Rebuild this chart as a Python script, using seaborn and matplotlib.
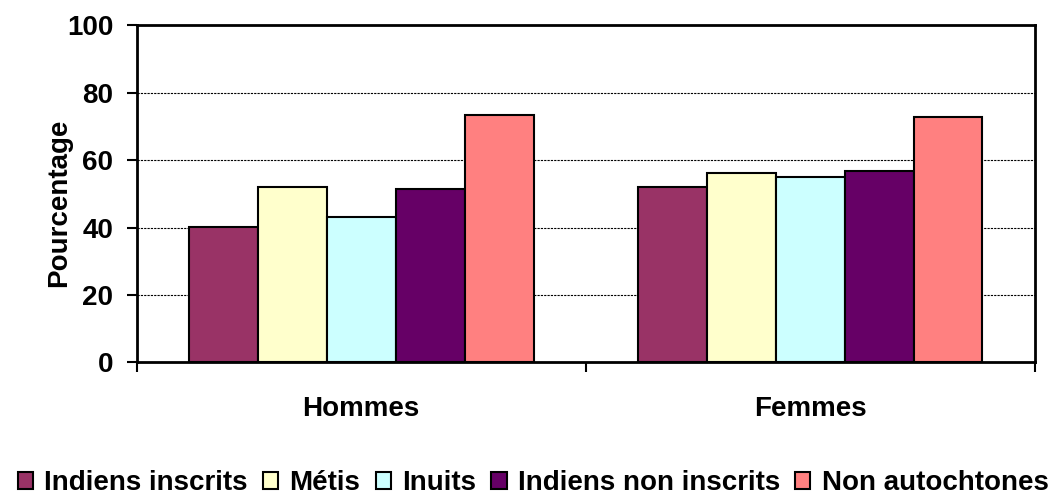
import matplotlib
matplotlib.use('Agg')
import matplotlib.pyplot as plt
import pandas as pd
import seaborn as sns

groupes = ['Hommes', 'Femmes']
populations = ['Indiens inscrits', 'Métis', 'Inuits', 'Indiens non inscrits', 'Non autochtones']
hommes = [40.2, 52.1, 43.1, 51.5, 73.5]
femmes = [52.1, 56.2, 55.0, 56.8, 72.9]
couleurs = ['#993366', '#FFFFCC', '#CCFFFF', '#660066', '#FF8080']

data = pd.DataFrame({
    'groupe': [g for g in groupes for _ in populations],
    'population': populations * 2,
    'Pourcentage': hommes + femmes,
})

sns.set_style('white')
plt.rcParams['font.family'] = ['Liberation Sans', 'DejaVu Sans']
plt.rcParams['font.weight'] = 'bold'
for k in ['text.color', 'axes.labelcolor', 'xtick.color', 'ytick.color']:
    plt.rcParams[k] = 'black'

fig = plt.figure(figsize=(10.6, 4.95), dpi=100)
ax = fig.add_axes([0.129, 0.268, 0.847, 0.681])

sns.barplot(data=data, x='groupe', y='Pourcentage', hue='population',
            order=groupes, hue_order=populations, palette=couleurs,
            saturation=1, width=0.768, gap=0, edgecolor='black', linewidth=1.5,
            ax=ax, legend=True)

ax.set_ylim(0, 100)
ax.set_xlim(-0.5, 1.5)
ax.set_yticks([0, 20, 40, 60, 80, 100])
ax.yaxis.grid(True, color='black', linestyle=(0, (2, 1)), linewidth=0.8)
ax.set_axisbelow(True)
for s in ax.spines.values():
    s.set_visible(True)
    s.set_color('black')
    s.set_linewidth(2)

ax.tick_params(axis='y', which='major', direction='out', length=7, width=1.5,
               labelsize=20, pad=10, left=True)
ax.tick_params(axis='x', which='major', length=0, labelsize=20, pad=24)
ax.set_xticks([-0.5, 0.5, 1.5], minor=True)
ax.tick_params(axis='x', which='minor', direction='out', length=7, width=1.5, bottom=True)
for lab in ax.get_xticklabels() + ax.get_yticklabels():
    lab.set_fontweight('bold')

ax.set_xlabel('')
ax.set_ylabel('Pourcentage', fontsize=20, fontweight='bold')
ax.yaxis.set_label_coords(-0.0724, 0.473)

handles, labels = ax.get_legend_handles_labels()
ax.legend_.remove()
fig.legend(handles, labels, loc='lower center', bbox_to_anchor=(0.503, -0.008), ncol=5,
           frameon=False, handlelength=0.55, handleheight=0.55, handletextpad=0.4,
           columnspacing=0.55, borderaxespad=0, borderpad=0.1,
           prop={'size': 20, 'weight': 'bold'})

fig.savefig('out.png', dpi=100)
